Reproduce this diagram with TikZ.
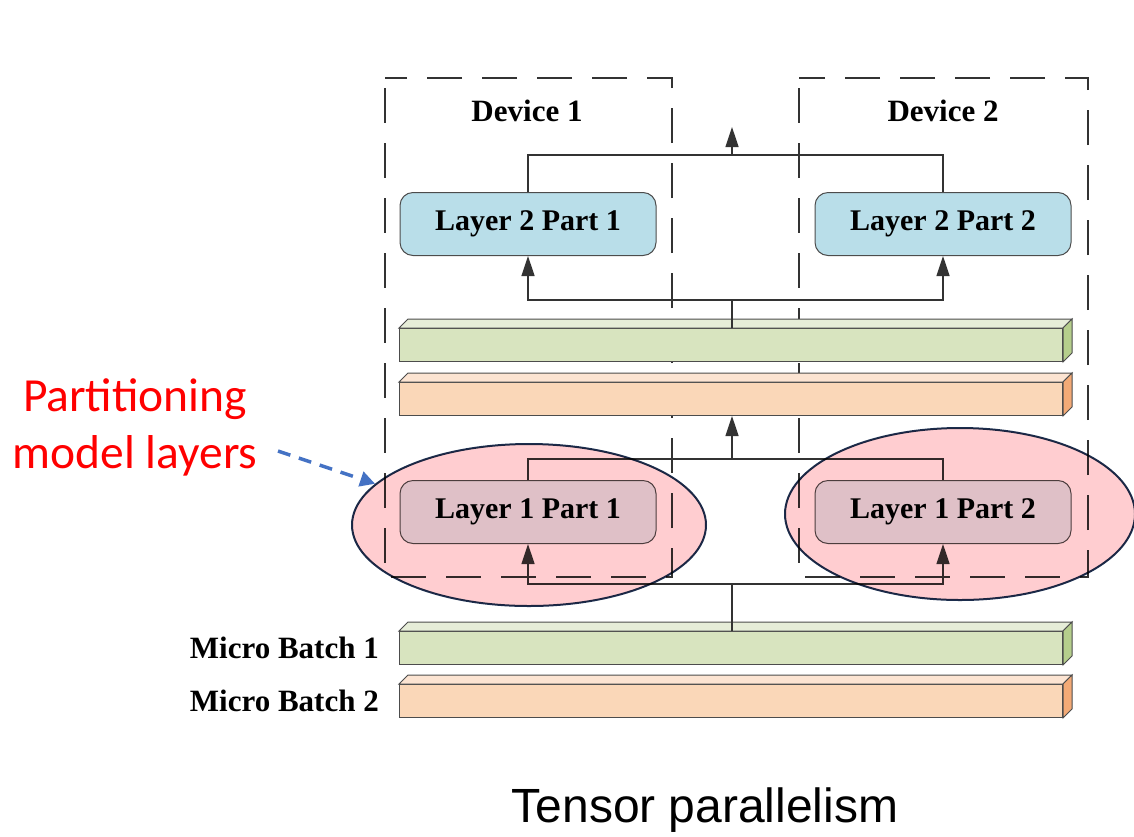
\documentclass[tikz,border=0pt]{standalone}
\usepackage{fontspec}
\setmainfont{Liberation Serif}
\newfontfamily\notefont{Carlito}
\newfontfamily\captionfont{Liberation Sans}
\usetikzlibrary{arrows.meta,positioning,shapes.geometric}

\definecolor{layerblue}{HTML}{B9DEE9}
\definecolor{slabgreen}{HTML}{D8E4BF}
\definecolor{slabgreentop}{HTML}{E6EDD8}
\definecolor{slabgreenside}{HTML}{B5CE8C}
\definecolor{slaborange}{HTML}{FAD7B8}
\definecolor{slaborangetop}{HTML}{FCE4D2}
\definecolor{slaborangeside}{HTML}{F3AA76}
\definecolor{ovalred}{HTML}{FFCDD0}
\definecolor{ovalline}{HTML}{1C2E4E}
\definecolor{callblue}{HTML}{4472C4}

\tikzset{
  layer/.style={draw=black!70, fill=layerblue, rounded corners=13pt, line width=1pt,
    minimum width=256pt, minimum height=63pt, inner sep=0pt,
    font=\bfseries\fontsize{30}{30}\selectfont},
  slab/.style={draw=black!70, line width=1pt, minimum width=663pt, minimum height=33pt, inner sep=0pt},
  device/.style={draw=black!80, line width=1.7pt, dash pattern=on 35pt off 20pt, dash phase=45pt},
  devlabel/.style={font=\bfseries\fontsize{31}{31}\selectfont, inner sep=0pt},
  wire/.style={draw=black!80, line width=1.3pt},
  up/.style={wire, arrows={-{Triangle[length=20pt,width=13pt]}}},
  oval/.style={ellipse, draw=ovalline, line width=2pt, fill=ovalred, blend mode=multiply,
    inner sep=0pt},
}

% top face and side face of a slab node
\newcommand{\slabfaces}[3]{%
  \filldraw[draw=black!70, line width=1pt, fill=#2] (#1.north west) -- ++(9pt,9pt)
    -- ([shift={(9pt,9pt)}]#1.north east) -- (#1.north east) -- cycle;
  \filldraw[draw=black!70, line width=1pt, fill=#3] (#1.north east) -- ++(9pt,9pt)
    -- ([shift={(9pt,9pt)}]#1.south east) -- (#1.south east) -- cycle;
}

\begin{document}
\begin{tikzpicture}[x=1pt, y=-1pt]
  \useasboundingbox (0,0) rectangle (1134,836);

  % devices
  \draw[device] (385,78) rectangle (672,577);
  \draw[device] (799,78) rectangle (1088,577);
  \node[devlabel] (dev1) at (527,111) {Device 1};
  \node[devlabel] (dev2) at (943,111) {Device 2};

  % layers
  \node[layer] (l2a) at (528,224) {Layer 2 Part 1};
  \node[layer] (l2b) at (943,224) {Layer 2 Part 2};
  \node[layer, fill=layerblue!45] (l1a) at (528,512) {Layer 1 Part 1};
  \node[layer, fill=layerblue!45] (l1b) at (943,512) {Layer 1 Part 2};

  % activations and micro batches
  \node[slab, fill=slabgreen]  (act1) at (731,345) {};
  \node[slab, fill=slaborange] (act2) at (731,399) {};
  \node[slab, fill=slabgreen]  (mb1)  at (731,648) {};
  \node[slab, fill=slaborange] (mb2)  at (731,701) {};
  \slabfaces{act1}{slabgreentop}{slabgreenside}
  \slabfaces{act2}{slaborangetop}{slaborangeside}
  \slabfaces{mb1}{slabgreentop}{slabgreenside}
  \slabfaces{mb2}{slaborangetop}{slaborangeside}
  \node[devlabel, left=20pt of mb1] (lb1) {Micro Batch 1};
  \node[devlabel, left=20pt of mb2] (lb2) {Micro Batch 2};

  % connectors
  \coordinate (out)    at (732,127);
  \coordinate (merge2) at (732,155);
  \coordinate (split2) at (732,300);
  \coordinate (merge1) at (732,459);
  \coordinate (split1) at (732,584);
  \draw[wire] (l2a.north) |- (merge2) -| (l2b.north);
  \draw[up] (merge2) -- (out);
  \draw[wire] (act1.north -| split2) -- (split2);
  \draw[up] (split2) -| (l2a.south);
  \draw[up] (split2) -| (l2b.south);
  \draw[up] (merge1) -- (merge1 |- act2.south);
  \draw[wire] (l1a.north) |- (merge1) -| (l1b.north);
  \draw[wire] (mb1.north -| split1) -- (split1);
  \draw[up] (split1) -| (l1a.south);
  \draw[up] (split1) -| (l1b.south);

  % partitions
  \node[oval, minimum width=354pt, minimum height=162pt] (part1) at (529,525) {};
  \node[oval, minimum width=350pt, minimum height=172pt] (part2) at (960,514) {};

  \node[text=red, align=center, font=\notefont\fontsize{47.5}{57}\selectfont] (note)
    at (135,427) {Partitioning\\model layers};
  \coordinate (from) at (278,451);
  \draw[callblue, line width=3.5pt, dash pattern=on 13pt off 9pt,
    -{Triangle[length=15pt,width=15pt]}] (from) -- (part1.165);

  \node[font=\captionfont\fontsize{48}{48}\selectfont] (title) at (705,810) {Tensor parallelism};
\end{tikzpicture}
\end{document}
